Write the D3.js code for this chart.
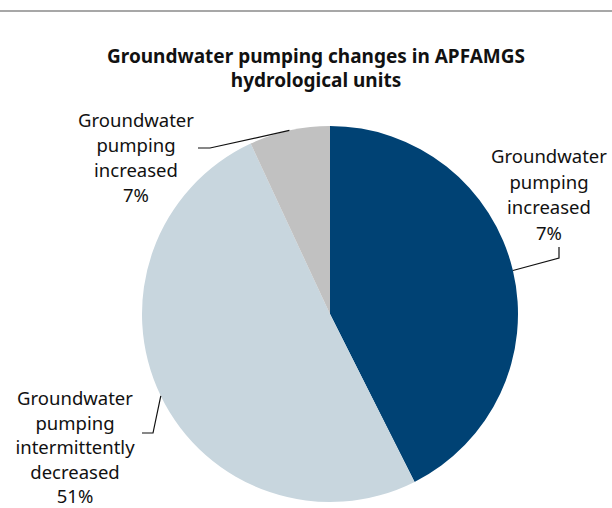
<!DOCTYPE html>
<html>
<head>
<meta charset="utf-8">
<script src="https://cdn.jsdelivr.net/npm/d3@7"></script>
<style>
body { margin: 0; background: #fff; }
svg text { font-family: "Noto Sans", "Open Sans", sans-serif; fill: #111; }
</style>
</head>
<body>
<div id="piechart"></div>
<script>
// data
var categories = ["Groundwater pumping increased", "Groundwater pumping intermittently decreased", "Groundwater pumping increased"];
var values = [43, 51, 7];
var labelLines = [
  ["Groundwater", "pumping", "increased", "7%"],
  ["Groundwater", "pumping", "intermittently", "decreased", "51%"],
  ["Groundwater", "pumping", "increased", "7%"]
];
var colors = ["#004274", "#c8d6de", "#c1c1c1"];
var titleLines = ["Groundwater pumping changes in APFAMGS", "hydrological units"];

var width = 612, height = 508,
    cx = 330, cy = 314, radius = 188;

// leader line elbows and label anchors, relative to pie centre
var labelLayout = [
  {elbow: [229, -56], end: [229, -67], text: [219, -151], step: 25.5},
  {elbow: [-177, 119], end: [-188, 119], text: [-255, 91], step: 24.5},
  {elbow: [-120, -166], end: [-132, -166], text: [-194, -187], step: 25}
];

var svg = d3.select("#piechart").append("svg")
    .attr("width", width)
    .attr("height", height);

svg.append("line")
    .attr("x1", 0).attr("x2", width)
    .attr("y1", 11).attr("y2", 11)
    .attr("stroke", "#8a8a8a")
    .attr("stroke-width", 1.5);

svg.append("text")
    .attr("text-anchor", "middle")
    .style("font-size", "19px")
    .style("font-weight", "bold")
    .selectAll("tspan")
    .data(titleLines)
    .enter().append("tspan")
      .attr("x", 316)
      .attr("y", function(d, i) { return 63 + i * 24; })
      .text(function(d) { return d; });

var g = svg.append("g")
    .attr("transform", "translate(" + cx + "," + cy + ")");

var pie = d3.pie().sort(null).value(function(d) { return d; });
var arc = d3.arc().innerRadius(0).outerRadius(radius);

var arcs = pie(values);

g.selectAll("path.slice")
    .data(arcs)
    .enter().append("path")
      .attr("class", "slice")
      .attr("fill", function(d, i) { return colors[i]; })
      .attr("d", arc);

arcs.forEach(function(d, i) {
  var mid = (d.startAngle + d.endAngle) / 2;
  var start = [Math.sin(mid) * radius, -Math.cos(mid) * radius];
  var lay = labelLayout[i];

  g.append("polyline")
      .attr("points", [start, lay.elbow, lay.end].map(function(p) { return p.join(","); }).join(" "))
      .attr("fill", "none")
      .attr("stroke", "#111")
      .attr("stroke-width", 1.2);

  g.append("text")
      .attr("text-anchor", "middle")
      .style("font-size", "18.5px")
      .selectAll("tspan")
      .data(labelLines[i])
      .enter().append("tspan")
        .attr("x", lay.text[0])
        .attr("y", function(t, j) { return lay.text[1] + j * lay.step; })
        .text(function(t) { return t; });
});
</script>
</body>
</html>
